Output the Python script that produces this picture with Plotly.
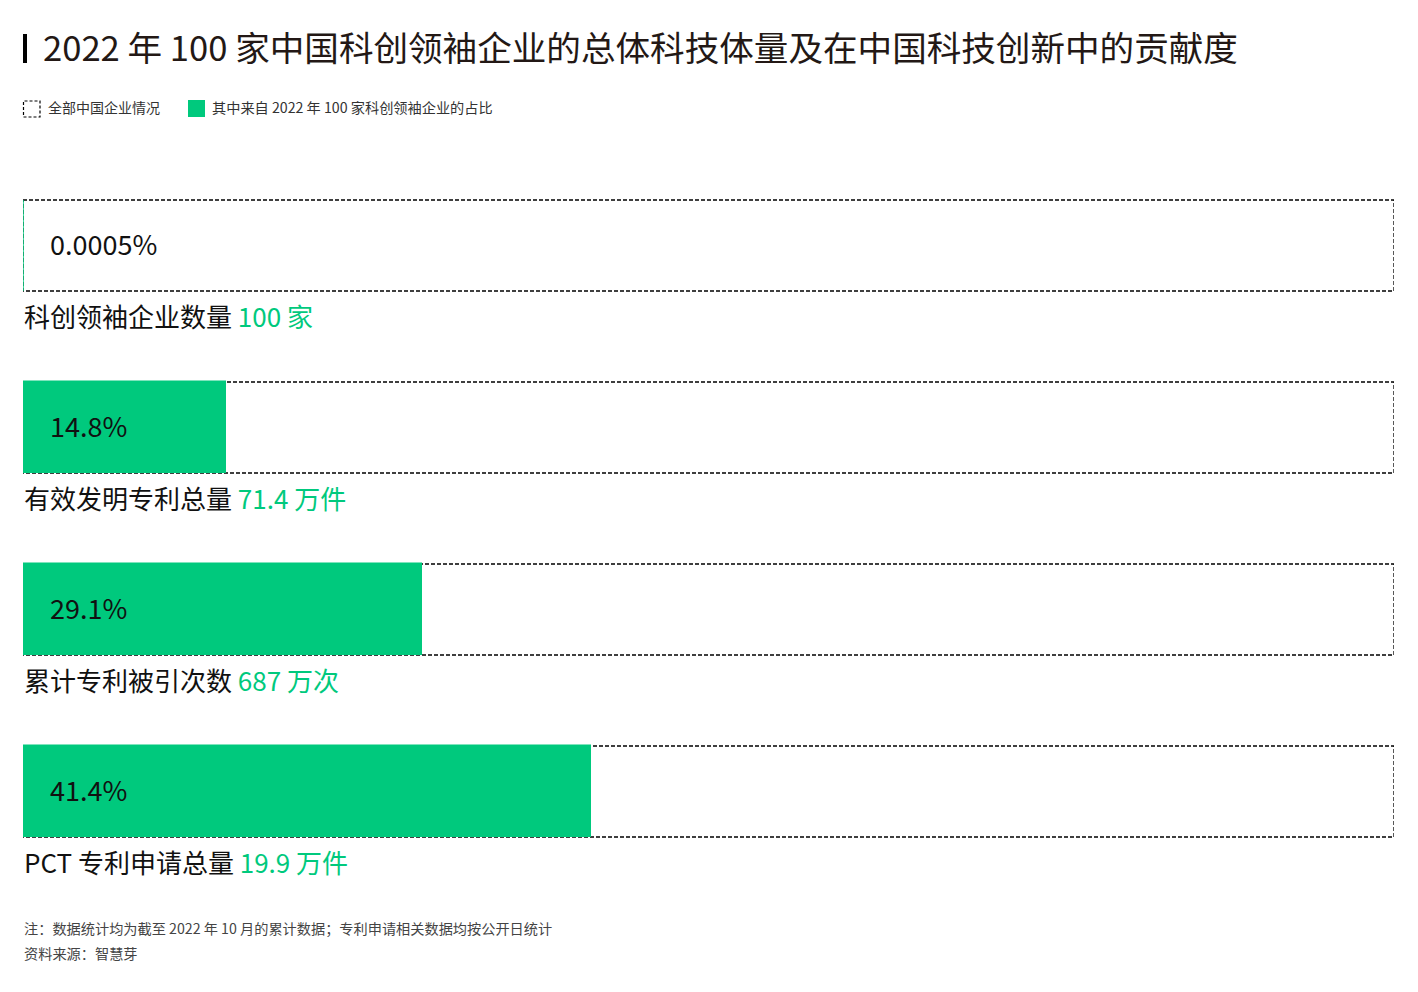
import plotly.graph_objects as go

# ---- data ----
shares = [0.0005, 14.8, 29.1, 41.4]          # % share from the 100 companies
share_labels = ["0.0005%", "14.8%", "29.1%", "41.4%"]
metric_names = ["科创领袖企业数量", "有效发明专利总量", "累计专利被引次数", "PCT 专利申请总量"]
metric_values = ["100 家", "71.4 万件", "687 万次", "19.9 万件"]
total = 100

title = "2022 年 100 家中国科创领袖企业的总体科技体量及在中国科技创新中的贡献度"
legend_all = "全部中国企业情况"
legend_share = "其中来自 2022 年 100 家科创领袖企业的占比"
note1 = "注：数据统计均为截至 2022 年 10 月的累计数据；专利申请相关数据均按公开日统计"
note2 = "资料来源：智慧芽"

# ---- style ----
OFF = 8                      # page body margin
W, H = 1418 - OFF, 992 - OFF
GREEN = "#00C97D"
DARK = "#231815"
FONT = "Noto Sans CJK SC"

def px(x):
    return (x - OFF) / W

def py(y):
    return 1 - (y - OFF) / H

unit = 182.0              # pixels per category step
c0 = 245.5                # pixel centre of first category
top_px, bot_px = 190, 890
y_top = (top_px - c0) / unit
y_bot = (bot_px - c0) / unit

ys = list(range(len(shares)))

fig = go.Figure()
fig.add_trace(go.Bar(
    y=ys, x=shares, orientation="h", width=0.5,
    marker=dict(color=GREEN, line=dict(color=GREEN, width=1.5)),
    hoverinfo="skip", showlegend=False,
))

shapes = []
for i in ys:
    shapes.append(dict(type="rect", xref="x", yref="y", x0=0, x1=total,
                       y0=i - 0.25, y1=i + 0.25, layer="below",
                       line=dict(color="#000000", width=1.3, dash="4px,2px")))
    # bar base edge (visible even for a near-zero share)
    shapes.append(dict(type="line", xref="x", yref="y", x0=0, x1=0,
                       y0=i - 0.25, y1=i + 0.25, layer="above",
                       line=dict(color=GREEN, width=1.5)))

annotations = []
for i in ys:
    annotations.append(dict(x=0, y=i - 2 / unit, xref="x", yref="y", xanchor="left", yanchor="middle",
                            xshift=25, text=share_labels[i], showarrow=False,
                            font=dict(family=FONT, size=27, color="#111111")))
    annotations.append(dict(x=0, y=i + 0.25 + 24 / unit, xref="x", yref="y",
                            xanchor="left", yanchor="middle", xshift=-1,
                            text=f"{metric_names[i]} <span style='color:{GREEN}'>{metric_values[i]}</span>",
                            showarrow=False,
                            font=dict(family=FONT, size=26, color="#111111")))

# title block
shapes.append(dict(type="rect", xref="paper", yref="paper", x0=px(23), x1=px(27),
                   y0=py(63), y1=py(34), fillcolor="#000000", line=dict(width=0)))
annotations.append(dict(x=px(41), y=py(46), xref="paper", yref="paper", xanchor="left",
                        yanchor="middle", text=title, showarrow=False,
                        font=dict(family=FONT, size=34.6, color=DARK)))

# legend
shapes.append(dict(type="rect", xref="paper", yref="paper", x0=px(23.5), x1=px(40),
                   y0=py(117), y1=py(101), line=dict(color="#000000", width=1.2, dash="3px,2px")))
annotations.append(dict(x=px(46), y=py(106.5), xref="paper", yref="paper", xanchor="left",
                        yanchor="middle", text=legend_all, showarrow=False,
                        font=dict(family=FONT, size=14, color="#333333")))
shapes.append(dict(type="rect", xref="paper", yref="paper", x0=px(188), x1=px(205),
                   y0=py(117), y1=py(100), fillcolor=GREEN, line=dict(width=0)))
annotations.append(dict(x=px(210), y=py(106.5), xref="paper", yref="paper", xanchor="left",
                        yanchor="middle", text=legend_share, showarrow=False,
                        font=dict(family=FONT, size=14.2, color="#333333")))

# notes
annotations.append(dict(x=px(22), y=py(927.5), xref="paper", yref="paper", xanchor="left",
                        yanchor="middle", text=note1, showarrow=False,
                        font=dict(family=FONT, size=14.2, color="#444444")))
annotations.append(dict(x=px(22), y=py(952.5), xref="paper", yref="paper", xanchor="left",
                        yanchor="middle", text=note2, showarrow=False,
                        font=dict(family=FONT, size=14.2, color="#444444")))

fig.update_layout(
    width=W, height=H,
    margin=dict(l=0, r=0, t=0, b=0),
    paper_bgcolor="white", plot_bgcolor="white",
    xaxis=dict(domain=[px(23), px(1394)], range=[0, total], visible=False, fixedrange=True),
    yaxis=dict(domain=[py(bot_px), py(top_px)], range=[y_bot, y_top], visible=False, fixedrange=True),
    shapes=shapes, annotations=annotations,
    bargap=0, showlegend=False,
)

fig.write_html("out.html")
